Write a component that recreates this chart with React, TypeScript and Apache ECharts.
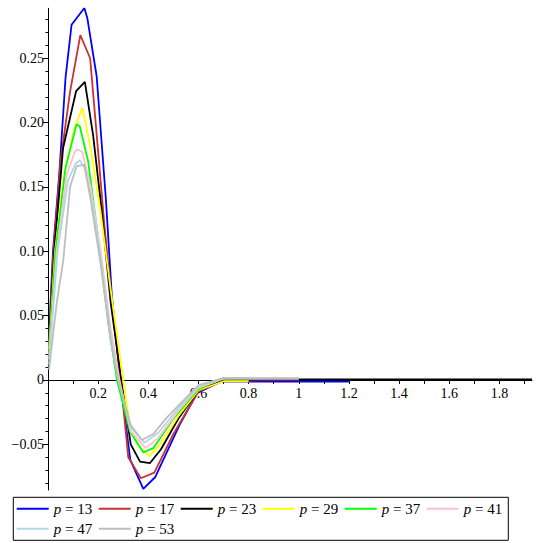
import React, { useEffect, useRef } from "react";
import * as echarts from "echarts";

const seriesNames = ["p = 13", "p = 17", "p = 23", "p = 29", "p = 37", "p = 41", "p = 47", "p = 53"];
const seriesColors = ["#0000ff", "#c83232", "#000000", "#ffff00", "#00ff00", "#ffc0cb", "#add8e6", "#bebebe"];

const p13: [number, number][] = [
  [0.004, 0.035], [0.02, 0.1], [0.045, 0.16], [0.07, 0.235], [0.094, 0.276], [0.145, 0.289], [0.157, 0.281],
  [0.194, 0.236], [0.231, 0.14], [0.254, 0.067], [0.288, 0], [0.328, -0.062], [0.38, -0.0846], [0.427, -0.0756],
  [0.527, -0.034], [0.594, -0.0103], [0.687, -0.0013], [0.8, -0.0013], [1.0, -0.0013], [1.2, -0.0013],
];
const p17: [number, number][] = [
  [0.004, 0.03], [0.022, 0.1], [0.05, 0.17], [0.088, 0.224], [0.129, 0.268], [0.168, 0.25], [0.19, 0.2],
  [0.225, 0.12], [0.26, 0.05], [0.29, 0], [0.32, -0.06], [0.37, -0.0764], [0.424, -0.072], [0.5, -0.042],
  [0.6, -0.009], [0.7, -0.0005], [1.0, 0],
];
const p23: [number, number][] = [
  [0.004, 0.028], [0.025, 0.1], [0.06, 0.18], [0.112, 0.2244], [0.147, 0.2316], [0.18, 0.19], [0.215, 0.13],
  [0.25, 0.06], [0.292, 0], [0.33, -0.05], [0.367, -0.0634], [0.406, -0.0647], [0.45, -0.054], [0.52, -0.03],
  [0.6, -0.008], [0.7, 0], [1.0, 0.0005], [1.93, 0.0005],
];
const p29: [number, number][] = [
  [0.004, 0.024], [0.028, 0.1], [0.065, 0.16], [0.105, 0.195], [0.137, 0.2114], [0.17, 0.18], [0.21, 0.13],
  [0.25, 0.07], [0.3, 0], [0.33, -0.04], [0.367, -0.053], [0.404, -0.059], [0.44, -0.052], [0.52, -0.028],
  [0.6, -0.008], [0.7, -0.001], [0.8, -0.001],
];
const p37: [number, number][] = [
  [0.004, 0.02], [0.03, 0.1], [0.07, 0.165], [0.114, 0.1988], [0.127, 0.197], [0.16, 0.17], [0.2, 0.11],
  [0.24, 0.045], [0.275, 0], [0.327, -0.04], [0.38, -0.0562], [0.42, -0.053], [0.5, -0.03], [0.6, -0.007],
  [0.7, 0.0015], [0.8, 0.0015],
];
const p41: [number, number][] = [
  [0.004, 0.016], [0.035, 0.1], [0.075, 0.16], [0.108, 0.178], [0.121, 0.179], [0.137, 0.177], [0.17, 0.15],
  [0.21, 0.1], [0.25, 0.04], [0.285, 0], [0.33, -0.04], [0.39, -0.053], [0.44, -0.045], [0.52, -0.024],
  [0.6, -0.006], [0.7, 0.001], [1.0, 0.001],
];
const p47: [number, number][] = [
  [0.004, 0.012], [0.038, 0.1], [0.08, 0.155], [0.11, 0.168], [0.127, 0.1708], [0.145, 0.165], [0.175, 0.14],
  [0.21, 0.095], [0.25, 0.035], [0.28, 0], [0.33, -0.037], [0.385, -0.0487], [0.44, -0.041], [0.52, -0.022],
  [0.6, -0.005], [0.7, 0.001], [1.0, 0.001],
];
const p53: [number, number][] = [
  [0.004, 0.008], [0.035, 0.06], [0.061, 0.093], [0.088, 0.15], [0.114, 0.166], [0.145, 0.1674], [0.17, 0.14],
  [0.21, 0.09], [0.25, 0.03], [0.28, 0], [0.33, -0.035], [0.374, -0.0466], [0.42, -0.042], [0.47, -0.03],
  [0.52, -0.02], [0.6, -0.004], [0.7, 0.0015], [1.0, 0.0015],
];
const seriesData = [p13, p17, p23, p29, p37, p41, p47, p53];

const xTickValues = [0.2, 0.4, 0.6, 0.8, 1, 1.2, 1.4, 1.6, 1.8];
const xTickLabels = ["0.2", "0.4", "0.6", "0.8", "1", "1.2", "1.4", "1.6", "1.8"];
const xAllTicks = [0.1, 0.2, 0.3, 0.4, 0.5, 0.6, 0.7, 0.8, 0.9, 1, 1.1, 1.2, 1.3, 1.4, 1.5, 1.6, 1.7, 1.8, 1.9];

const yTickValues = [-0.05, 0, 0.05, 0.1, 0.15, 0.2, 0.25];
const yTickLabels = ["\u22120.05", "0", "0.05", "0.10", "0.15", "0.20", "0.25"];
const yMinorTicks = [
  -0.08, -0.07, -0.06, -0.04, -0.03, -0.02, -0.01, 0.01, 0.02, 0.03, 0.04, 0.06, 0.07, 0.08, 0.09,
  0.11, 0.12, 0.13, 0.14, 0.16, 0.17, 0.18, 0.19, 0.21, 0.22, 0.23, 0.24, 0.26, 0.27, 0.28,
];

const X_MIN = 0;
const X_MAX = 1.93;
const Y_MIN = -0.0855;
const Y_MAX = 0.2888;

const GRID_TOP = 8.3;
const GRID_BOTTOM = 53;
const CHART_H = 543;

const FONT = "'Liberation Serif', 'Times New Roman', serif";

function lookup(values: number[], labels: string[], v: number): string {
  for (let i = 0; i < values.length; i++) {
    if (Math.abs(values[i] - v) < 1e-9) return labels[i];
  }
  return "";
}

export default function App() {
  const ref = useRef<HTMLDivElement>(null);
  useEffect(() => {
    if (!ref.current) return;
    const chart = echarts.init(ref.current, undefined, { renderer: "svg" });
    const gridH = CHART_H - GRID_TOP - GRID_BOTTOM;
    // distance from the zero line up to the grid bottom, so that the label axis sits on y = 0
    const zeroOffset = -(gridH * (0 - Y_MIN)) / (Y_MAX - Y_MIN);
    const option: any = {
      animation: false,
      backgroundColor: "#ffffff",
      grid: { left: 48, right: 8, top: GRID_TOP, bottom: GRID_BOTTOM, containLabel: false, outerBoundsMode: "none" },
      legend: {
        data: seriesNames,
        left: 13.3,
        top: 497.3,
        width: 500,
        orient: "horizontal",
        padding: [4, 4.6, 4, 3.4],
        borderColor: "#000",
        borderWidth: 1,
        itemGap: 5,
        itemWidth: 32,
        itemHeight: 2,
        icon: "rect",
        textStyle: {
          fontFamily: FONT,
          fontSize: 15,
          color: "#000",
          width: 40,
          lineHeight: 12,
          rich: {
            i: { fontFamily: FONT, fontSize: 15, fontStyle: "italic", color: "#000", lineHeight: 12 },
            n: { fontFamily: FONT, fontSize: 15, color: "#000", lineHeight: 12 },
          },
        },
        formatter: (name: string) => "{i|p}{n|" + name.slice(1) + "}",
      },
      xAxis: [
        {
          type: "value",
          min: X_MIN,
          max: X_MAX,
          splitLine: { show: false },
          axisLine: { show: true, onZero: true, lineStyle: { color: "#000", width: 1 } },
          axisTick: { show: true, length: 4, customValues: xAllTicks, lineStyle: { color: "#000" } },
          axisLabel: { show: false },
        },
        {
          type: "value",
          min: X_MIN,
          max: X_MAX,
          position: "bottom",
          offset: zeroOffset,
          splitLine: { show: false },
          axisLine: { show: false, onZero: false },
          axisTick: { show: false },
          axisLabel: {
            customValues: xTickValues,
            formatter: (v: number) => lookup(xTickValues, xTickLabels, v),
            fontFamily: FONT,
            fontSize: 14,
            color: "#000",
            margin: 7,
          },
        },
      ],
      yAxis: [
        {
          type: "value",
          min: Y_MIN,
          max: Y_MAX,
          position: "left",
          splitLine: { show: false },
          axisLine: { show: true, onZero: false, lineStyle: { color: "#000", width: 1 } },
          axisTick: { show: true, length: 5, customValues: yTickValues, lineStyle: { color: "#000" } },
          axisLabel: {
            customValues: yTickValues,
            formatter: (v: number) => lookup(yTickValues, yTickLabels, v),
            fontFamily: FONT,
            fontSize: 14,
            color: "#000",
            margin: 4,
          },
        },
        {
          type: "value",
          min: Y_MIN,
          max: Y_MAX,
          position: "left",
          splitLine: { show: false },
          axisLine: { show: false },
          axisTick: { show: true, length: 2.5, customValues: yMinorTicks, lineStyle: { color: "#000" } },
          axisLabel: { show: false },
        },
      ],
      series: seriesData.map((d, i) => ({
        name: seriesNames[i],
        type: "line",
        data: d,
        xAxisIndex: 0,
        yAxisIndex: 0,
        showSymbol: false,
        symbol: "none",
        color: seriesColors[i],
        lineStyle: { color: seriesColors[i], width: 1.8 },
        z: 2 + i,
      })),
    };
    chart.setOption(option);
    return () => chart.dispose();
  }, []);
  return (
    <div
      ref={ref}
      style={{ position: "fixed", left: 0, top: 0, width: 540, height: 543, background: "#fff" }}
    />
  );
}
